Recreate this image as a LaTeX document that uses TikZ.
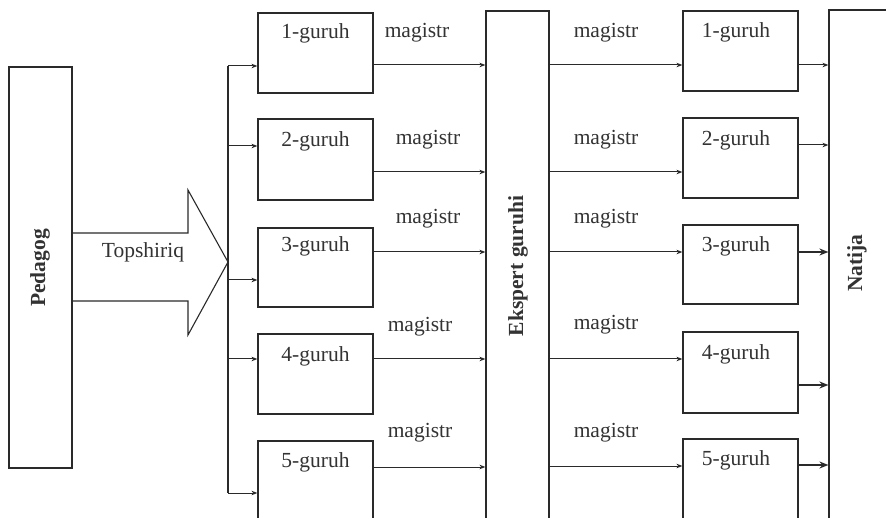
\documentclass[tikz,border=0pt]{standalone}
\usepackage{fontspec}
\setmainfont{Liberation Serif}
\usetikzlibrary{arrows.meta}
\definecolor{ink}{HTML}{2A2A2A}
\definecolor{txt}{HTML}{333333}
\begin{document}
\begin{tikzpicture}[x=1pt,y=-1pt,
  box/.style={draw=ink,line width=1.2pt,inner sep=0pt,minimum width=115pt,minimum height=80pt},
  tall/.style={draw=ink,line width=1.2pt,inner sep=0pt},
  lbl/.style={text=txt,inner sep=0pt,font=\fontsize{21.5}{24}\selectfont},
  vlbl/.style={text=txt,inner sep=0pt,rotate=90,font=\fontsize{21.5}{24}\selectfont\bfseries},
  conn/.style={draw=ink,line width=1pt},
  arr/.style={conn,-{Stealth[length=6pt,width=4.5pt]}},
  bigarr/.style={conn,line width=1.4pt,-{Stealth[length=9pt,width=7pt]}}]
\useasboundingbox (0,0) rectangle (886,518);
\fill[white] (0,0) rectangle (886,518);
\clip (0,0) rectangle (886,518);

% tall boxes
\node[tall,minimum width=63pt,minimum height=401pt] (P) at (40.5,267.5) {};
\node[tall,minimum width=63pt,minimum height=529pt] (E) at (517.5,275.5) {};
\node[tall,minimum width=71pt,minimum height=530pt] (N) at (864.5,275) {};
\node[vlbl] (Pt) at (40,268) {Pedagog};
\node[vlbl] (Et) at (518,266) {Ekspert guruhi};
\node[vlbl] (Nt) at (857,263) {Natija};

% left group boxes
\node[box] (L1) at (315.5,53) {};
\node[box,minimum height=81pt] (L2) at (315.5,159.5) {};
\node[box,minimum height=79pt] (L3) at (315.5,267.5) {};
\node[box] (L4) at (315.5,374) {};
\node[box] (L5) at (315.5,481) {};
\node[lbl] (L1t) at (315.5,33) {1-guruh};
\node[lbl] (L2t) at (315.5,141) {2-guruh};
\node[lbl] (L3t) at (315.5,246) {3-guruh};
\node[lbl] (L4t) at (315.5,356) {4-guruh};
\node[lbl] (L5t) at (315.5,462) {5-guruh};

% right group boxes
\node[box] (R1) at (740.5,51) {};
\node[box] (R2) at (740.5,158) {};
\node[box,minimum height=79pt] (R3) at (740.5,264.5) {};
\node[box,minimum height=81pt] (R4) at (740.5,372.5) {};
\node[box] (R5) at (740.5,479) {};
\node[lbl] (R1t) at (736,32) {1-guruh};
\node[lbl] (R2t) at (736,140) {2-guruh};
\node[lbl] (R3t) at (736,246) {3-guruh};
\node[lbl] (R4t) at (736,354) {4-guruh};
\node[lbl] (R5t) at (736,460) {5-guruh};

% magistr labels
\node[lbl] (m1) at (417,33) {magistr};
\node[lbl] (m2) at (428,140) {magistr};
\node[lbl] (m3) at (428,219) {magistr};
\node[lbl] (m4) at (420,327) {magistr};
\node[lbl] (m5) at (420,433) {magistr};
\node[lbl] (n1) at (606,33) {magistr};
\node[lbl] (n2) at (606,140) {magistr};
\node[lbl] (n3) at (606,219) {magistr};
\node[lbl] (n4) at (606,325) {magistr};
\node[lbl] (n5) at (606,433) {magistr};

% block arrow Pedagog -> bus
\coordinate (tip) at (228,262);
\draw[conn,line width=1.1pt] (P.east |- 0,233) -- (188,233) -- (188,190) -- (tip)
  -- (188,335) -- (188,301) -- (P.east |- 0,301);
\node[lbl] (T) at (143,252) {Topshiriq};

% bus
\coordinate (b1) at (228,66);
\coordinate (b2) at (228,146);
\coordinate (b3) at (228,280);
\coordinate (b4) at (228,359);
\coordinate (b5) at (228,493);
\draw[conn,line width=1.1pt] (b1) -- (b5);
\draw[arr] (b1) -- (b1 -| L1.west);
\draw[arr] (b2) -- (b2 -| L2.west);
\draw[arr] (b3) -- (b3 -| L3.west);
\draw[arr] (b4) -- (b4 -| L4.west);
\draw[arr] (b5) -- (b5 -| L5.west);

% left boxes -> Ekspert
\draw[arr] (L1.east |- 0,65) -- (E.west |- 0,65);
\draw[arr] (L2.east |- 0,172) -- (E.west |- 0,172);
\draw[arr] (L3.east |- 0,252) -- (E.west |- 0,252);
\draw[arr] (L4.east |- 0,359) -- (E.west |- 0,359);
\draw[arr] (L5.east |- 0,467) -- (E.west |- 0,467);

% Ekspert -> right boxes
\draw[arr] (E.east |- 0,65) -- (R1.west |- 0,65);
\draw[arr] (E.east |- 0,172) -- (R2.west |- 0,172);
\draw[arr] (E.east |- 0,252) -- (R3.west |- 0,252);
\draw[arr] (E.east |- 0,359) -- (R4.west |- 0,359);
\draw[arr] (E.east |- 0,466) -- (R5.west |- 0,466);

% right boxes -> Natija
\draw[arr] (R1.east |- 0,65) -- (N.west |- 0,65);
\draw[arr] (R2.east |- 0,145) -- (N.west |- 0,145);
\draw[bigarr] (R3.east |- 0,252) -- (N.west |- 0,252);
\draw[bigarr] (R4.east |- 0,385) -- (N.west |- 0,385);
\draw[bigarr] (R5.east |- 0,465) -- (N.west |- 0,465);
\end{tikzpicture}
\end{document}
